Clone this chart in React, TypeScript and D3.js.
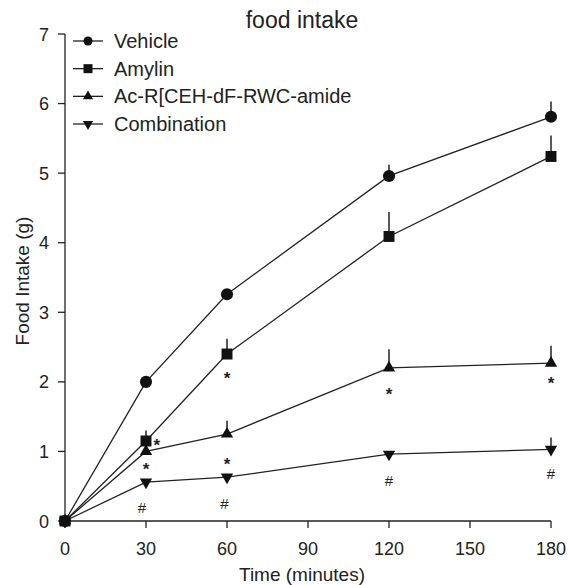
import React from "react";
import * as d3 from "d3";

const times = [0, 30, 60, 120, 180];
const seriesNames = ["Vehicle", "Amylin", "Ac-R[CEH-dF-RWC-amide", "Combination"];
const vehicle = [0, 2.0, 3.26, 4.96, 5.81];
const vehicleErr = [0, 0.07, 0.07, 0.16, 0.22];
const amylin = [0, 1.15, 2.4, 4.09, 5.24];
const amylinErr = [0, 0.15, 0.22, 0.35, 0.3];
const acr = [0, 1.0, 1.25, 2.2, 2.27];
const acrErr = [0, 0, 0.19, 0.27, 0.25];
const combination = [0, 0.56, 0.63, 0.96, 1.03];
const combinationErr = [0, 0, 0, 0, 0.17];
const xTicks = [0, 30, 60, 90, 120, 150, 180];
const yTicks = [0, 1, 2, 3, 4, 5, 6, 7];
const annotTime = [34, 30, 60, 60, 120, 180, 28.5, 59, 120, 180];
const annotValue = [1.14, 0.8, 2.1, 0.875, 1.88, 2.03, 0.2, 0.26, 0.59, 0.69];
const annotSymbol = ["*", "*", "*", "*", "*", "*", "#", "#", "#", "#"];

const W = 568;
const H = 585;
const FONT = "'Liberation Sans', Arial, sans-serif";
const INK = "#222";

export default function App() {
  const x = d3.scaleLinear().domain([0, 180]).range([65, 551]);
  const y = d3.scaleLinear().domain([0, 7]).range([521, 34]);

  const series = [
    { name: seriesNames[0], values: vehicle, err: vehicleErr, sym: d3.symbolCircle, size: 115, lsize: 64, rot: 0 },
    { name: seriesNames[1], values: amylin, err: amylinErr, sym: d3.symbolSquare, size: 120, lsize: 81, rot: 0 },
    { name: seriesNames[2], values: acr, err: acrErr, sym: d3.symbolTriangle, size: 66, lsize: 45, rot: 0 },
    { name: seriesNames[3], values: combination, err: combinationErr, sym: d3.symbolTriangle, size: 66, lsize: 45, rot: 180 },
  ];

  const line = d3
    .line<number>()
    .x((_, i) => x(times[i]))
    .y((d) => y(d));

  const legendY = d3.scaleLinear().domain([0, 3]).range([41, 124]);

  return (
    <svg
      width={W}
      height={H}
      style={{ position: "absolute", left: 0, top: 0, background: "#fff" }}
      fontFamily={FONT}
    >
      <rect x={0} y={0} width={W} height={H} fill="#fff" />
      {/* Title */}
      <text x={302} y={28} textAnchor="middle" fontSize={23} fill={INK}>
        food intake
      </text>

      {/* Axes */}
      <line x1={x(0)} x2={x(0)} y1={y(7)} y2={y(0)} stroke={INK} strokeWidth={1.3} />
      <line x1={x(0)} x2={x(180)} y1={y(0)} y2={y(0)} stroke={INK} strokeWidth={1.3} />
      {yTicks.map((t) => (
        <g key={"yt" + t}>
          <line x1={x(0) - 7} x2={x(0)} y1={y(t)} y2={y(t)} stroke={INK} strokeWidth={1.3} />
          <text x={x(0) - 16} y={y(t) + 6.5} textAnchor="end" fontSize={18} fill={INK}>
            {t}
          </text>
        </g>
      ))}
      {xTicks.map((t) => (
        <g key={"xt" + t}>
          <line x1={x(t)} x2={x(t)} y1={y(0)} y2={y(0) + 7} stroke={INK} strokeWidth={1.3} />
          <text x={x(t)} y={555} textAnchor="middle" fontSize={18} fill={INK}>
            {t}
          </text>
        </g>
      ))}
      <text x={302} y={581} textAnchor="middle" fontSize={19} fill={INK}>
        Time (minutes)
      </text>
      <text
        transform={`translate(29,${281}) rotate(-90)`}
        textAnchor="middle"
        fontSize={19}
        fill={INK}
      >
        Food Intake (g)
      </text>

      {/* Series */}
      {series.map((s) => (
        <g key={s.name}>
          <path d={line(s.values) || ""} fill="none" stroke={INK} strokeWidth={1.3} />
          {s.values.map((v, i) =>
            s.err[i] > 0 ? (
              <line
                key={"e" + i}
                x1={x(times[i])}
                x2={x(times[i])}
                y1={y(v)}
                y2={y(v + s.err[i])}
                stroke={INK}
                strokeWidth={1.5}
              />
            ) : null
          )}
          {s.values.map((v, i) => (
            <path
              key={"m" + i}
              d={d3.symbol().type(s.sym).size(s.size)() || ""}
              transform={`translate(${x(times[i])},${y(v)}) rotate(${s.rot})`}
              fill="#111"
            />
          ))}
        </g>
      ))}

      {/* Annotations */}
      {annotSymbol.map((sym, i) => (
        <text
          key={"a" + i}
          x={x(annotTime[i])}
          y={y(annotValue[i]) + (sym === "*" ? 9.5 : 6)}
          textAnchor="middle"
          fontSize={sym === "*" ? 17 : 15}
          fontWeight={sym === "*" ? "bold" : "normal"}
          fill={INK}
        >
          {sym}
        </text>
      ))}

      {/* Legend */}
      {series.map((s, i) => (
        <g key={"lg" + i}>
          <line x1={73} x2={103} y1={legendY(i)} y2={legendY(i)} stroke={INK} strokeWidth={1.3} />
          <path
            d={d3.symbol().type(s.sym).size(s.lsize)() || ""}
            transform={`translate(88,${legendY(i)}) rotate(${s.rot})`}
            fill="#111"
          />
          <text x={114} y={legendY(i) + 7} fontSize={20} fill={INK}>
            {s.name}
          </text>
        </g>
      ))}
    </svg>
  );
}
